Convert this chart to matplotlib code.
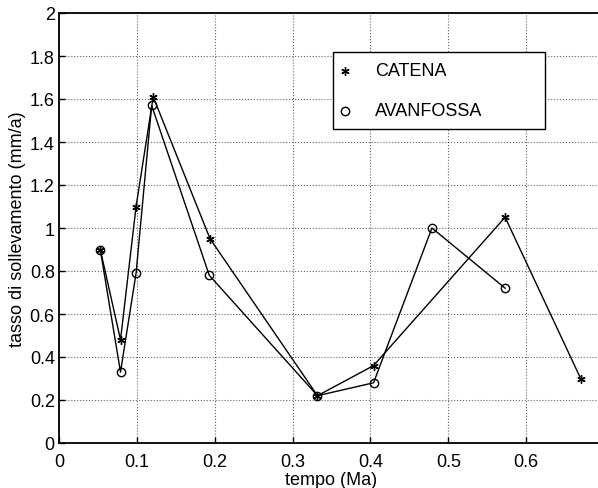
import matplotlib.pyplot as plt
from matplotlib.patches import Rectangle

plt.rcParams['font.family'] = ['Liberation Sans', 'DejaVu Sans']

# dati
tempo_catena = [0.053, 0.079, 0.099, 0.121, 0.194, 0.332, 0.404, 0.573, 0.670]
tasso_catena = [0.90, 0.48, 1.10, 1.61, 0.95, 0.22, 0.36, 1.05, 0.30]

tempo_avanfossa = [0.053, 0.079, 0.099, 0.119, 0.193, 0.332, 0.404, 0.479, 0.573]
tasso_avanfossa = [0.90, 0.33, 0.79, 1.57, 0.78, 0.22, 0.28, 1.00, 0.72]

xticks = [0, 0.1, 0.2, 0.3, 0.4, 0.5, 0.6]
xlabels = ['0', '0.1', '0.2', '0.3', '0.4', '0.5', '0.6']
yticks = [0, 0.2, 0.4, 0.6, 0.8, 1.0, 1.2, 1.4, 1.6, 1.8, 2.0]
ylabels = ['0', '0.2', '0.4', '0.6', '0.8', '1', '1.2', '1.4', '1.6', '1.8', '2']

fig = plt.figure(figsize=(5.98, 4.89), dpi=100)
ax = fig.add_axes([59 / 598, 45 / 489, 545 / 598, 430 / 489])

asterisco = (6, 2, 0)
ax.plot(tempo_catena, tasso_catena, color='black', linewidth=1.0,
        marker=asterisco, markersize=6, markeredgewidth=1.0, label='CATENA')
ax.plot(tempo_avanfossa, tasso_avanfossa, color='black', linewidth=1.0,
        marker='o', markersize=6, markerfacecolor='none', markeredgewidth=1.0,
        label='AVANFOSSA')

ax.set_xlim(0, 0.7)
ax.set_ylim(0, 2)
ax.set_xticks(xticks)
ax.set_xticklabels(xlabels)
ax.set_yticks(yticks)
ax.set_yticklabels(ylabels)
ax.tick_params(direction='in', labelsize=13, length=4, width=1)
ax.tick_params(axis='x', pad=7)
ax.tick_params(axis='y', pad=3)
ax.grid(True, linestyle=':', color='black', linewidth=0.8, alpha=0.6)

for s in ax.spines.values():
    s.set_linewidth(1.3)

ax.set_xlabel('tempo (Ma)', fontsize=13, labelpad=1)
ax.set_ylabel('tasso di sollevamento (mm/a)', fontsize=13, labelpad=3)

# legenda: riquadro disegnato a mano
x0, y0 = (333 - 59) / 545, (444 - 130) / 430
w, h = (545 - 333) / 545, (130 - 53) / 430
ax.add_patch(Rectangle((x0, y0), w, h, transform=ax.transAxes, facecolor='white',
                       edgecolor='black', linewidth=1.0, zorder=5))
righe = [(tempo_catena, 'CATENA', asterisco, 72), (tempo_avanfossa, 'AVANFOSSA', 'o', 112)]
for _, nome, mk, py in righe:
    yy = (444 - py) / 430
    ax.plot([(345 - 59) / 545], [yy], transform=ax.transAxes, color='black',
            marker=mk, markersize=6, markerfacecolor='none', markeredgewidth=1.0,
            linestyle='none', zorder=6, clip_on=False)
    ax.text((375 - 59) / 545, yy, nome, transform=ax.transAxes, fontsize=13,
            va='center', ha='left', zorder=6)

fig.savefig('out.png', dpi=100)
